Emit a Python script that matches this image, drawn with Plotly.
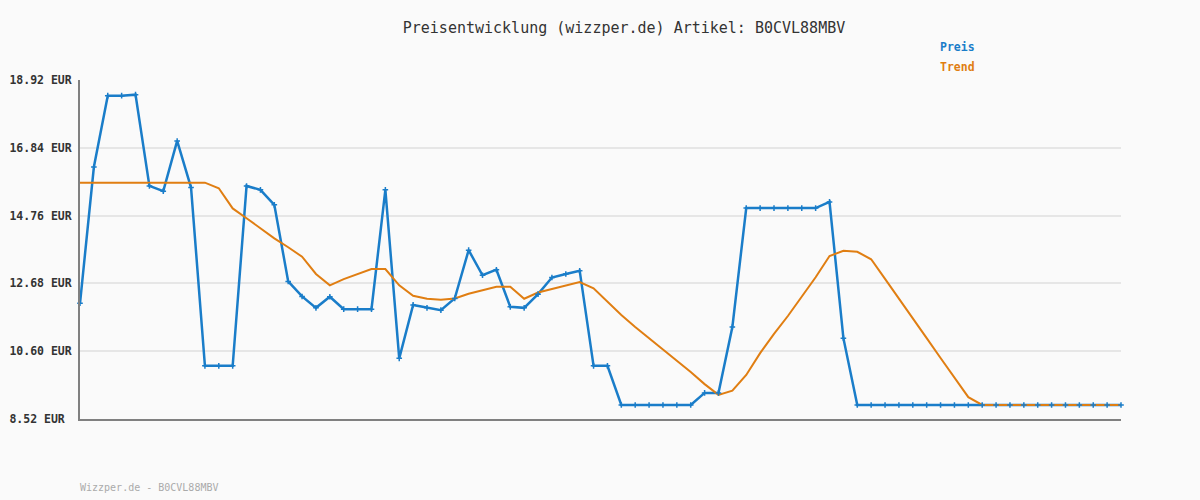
import plotly.graph_objects as go

idx = list(range(76))

preis = [12.07, 16.25, 18.44, 18.44, 18.47, 15.67, 15.51, 17.05, 15.62, 10.15,
         10.15, 10.15, 15.67, 15.55, 15.09, 12.74, 12.28, 11.93, 12.27, 11.89,
         11.89, 11.89, 15.55, 10.38, 12.02, 11.93, 11.86, 12.22, 13.70, 12.93,
         13.10, 11.96, 11.93, 12.35, 12.86, 12.97, 13.07, 10.15, 10.15, 8.95,
         8.95, 8.95, 8.95, 8.95, 8.95, 9.32, 9.32, 11.34, 14.99, 14.99,
         14.99, 14.99, 14.99, 14.99, 15.18, 11.00, 8.95, 8.95, 8.95, 8.95,
         8.95, 8.95, 8.95, 8.95, 8.95, 8.95, 8.95, 8.95, 8.95, 8.95,
         8.95, 8.95, 8.95, 8.95, 8.95, 8.95]

trend = [15.77, 15.77, 15.77, 15.77, 15.77, 15.77, 15.77, 15.77, 15.77, 15.77,
         15.60, 14.98, 14.68, 14.37, 14.06, 13.79, 13.50, 12.97, 12.62, 12.81,
         12.96, 13.12, 13.12, 12.62, 12.30, 12.21, 12.18, 12.22, 12.36, 12.46,
         12.58, 12.58, 12.21, 12.40, 12.50, 12.61, 12.72, 12.53, 12.11, 11.71,
         11.34, 11.00, 10.64, 10.30, 9.96, 9.59, 9.26, 9.39, 9.87, 10.54,
         11.13, 11.68, 12.26, 12.87, 13.52, 13.68, 13.65, 13.42, 12.82, 12.20,
         11.62, 11.00, 10.39, 9.78, 9.19, 8.95, 8.95, 8.95, 8.95, 8.95,
         8.95, 8.95, 8.95, 8.95, 8.95, 8.95]

ytick_vals = [8.52, 10.60, 12.68, 14.76, 16.84, 18.92]
ytick_text = ["8.52 EUR\u00a0", "10.60 EUR", "12.68 EUR", "14.76 EUR", "16.84 EUR", "18.92 EUR"]

title_text = "Preisentwicklung (wizzper.de) Artikel: B0CVL88MBV"
footer_text = "Wizzper.de - B0CVL88MBV"

BLUE = "#1a7dc9"
ORANGE = "#e07e12"
MONO = "DejaVu Sans Mono"

fig = go.Figure()
fig.add_trace(go.Scatter(x=idx, y=preis, mode="lines", line=dict(color=BLUE, width=2.5),
                         name="Preis", showlegend=False, cliponaxis=False, hoverinfo="skip"))
fig.add_trace(go.Scatter(x=idx, y=trend, mode="lines", line=dict(color=ORANGE, width=2),
                         name="Trend", showlegend=False, cliponaxis=False))
fig.add_trace(go.Scatter(x=idx, y=preis, mode="markers",
                         marker=dict(symbol="cross-thin", size=4, line=dict(color=BLUE, width=1.5), color=BLUE),
                         name="Preis", showlegend=False, cliponaxis=False))

fig.update_layout(
    width=1200, height=500,
    margin=dict(l=80, r=79, t=80, b=81),
    paper_bgcolor="#fafafa", plot_bgcolor="#fafafa",
    title=dict(text=title_text, x=624 / 1200, xanchor="center", y=1 - 28 / 500, yanchor="middle",
               font=dict(family=MONO, size=15, color="#333333")),
    xaxis=dict(range=[0, 75], showgrid=False, zeroline=False, showticklabels=False,
               showline=True, linecolor="#808080", linewidth=2, ticks="", automargin=False),
    yaxis=dict(range=[8.52, 18.92], tickvals=ytick_vals, ticktext=ytick_text,
               showgrid=True, gridcolor="#e6e6e6", gridwidth=2, zeroline=False,
               showline=True, linecolor="#808080", linewidth=2, ticks="",
               ticklabelstandoff=4, automargin=False,
               tickfont=dict(family=MONO, size=11.5, color="#333333", weight="bold")),
    annotations=[
        dict(text="Preis", xref="paper", yref="paper", x=(938 - 80) / 1041, y=1 + (80 - 47) / 339,
             xanchor="left", yanchor="middle", showarrow=False,
             font=dict(family=MONO, size=11.5, color=BLUE, weight="bold")),
        dict(text="Trend", xref="paper", yref="paper", x=(938 - 80) / 1041, y=1 + (80 - 67) / 339,
             xanchor="left", yanchor="middle", showarrow=False,
             font=dict(family=MONO, size=11.5, color=ORANGE, weight="bold")),
        dict(text=footer_text, xref="paper", yref="paper", x=-2 / 1041, y=-(487 - 419) / 339,
             xanchor="left", yanchor="middle", showarrow=False,
             font=dict(family=MONO, size=10, color="#aaaaaa")),
    ],
)

fig.write_html("out.html")
